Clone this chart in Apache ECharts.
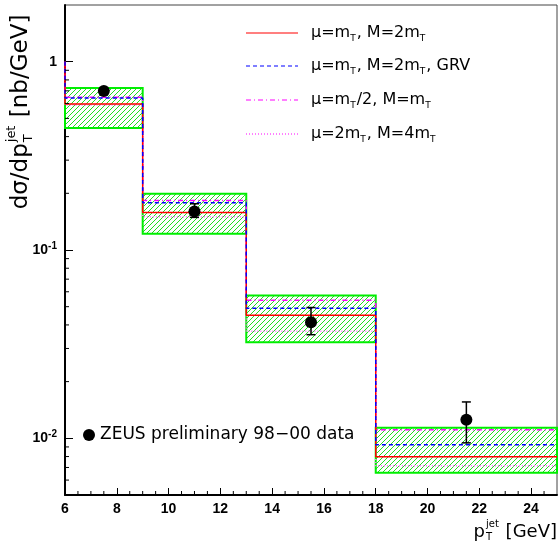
<!DOCTYPE html>
<html>
<head>
<meta charset="utf-8">
<script src="https://cdn.jsdelivr.net/npm/echarts@6/dist/echarts.min.js"></script>
<style>
  html, body { margin: 0; padding: 0; background: #fff; }
  #chart { width: 558px; height: 545px; }
</style>
</head>
<body>
<div id="chart"></div>
<script>
// bin edges in pT jet [GeV]
const binEdges = [6, 9, 13, 18, 25];
// NLO predictions, one value per bin [nb/GeV]
const nloNominal = [0.596, 0.158, 0.0450, 0.00798];   // mu=mT, M=2mT
const nloGrv = [0.641, 0.178, 0.0490, 0.00924];       // mu=mT, M=2mT, GRV
const nloHalf = [0.648, 0.183, 0.0541, 0.01109];      // mu=mT/2, M=mT
const nloDouble = [0.588, 0.150, 0.0370, 0.00715];    // mu=2mT, M=4mT
const entryValue = 1.0; // where the histogram outlines start at pT=6
// hatched uncertainty band
const bandLow = [0.445, 0.122, 0.0324, 0.00657];
const bandHigh = [0.724, 0.199, 0.0574, 0.01137];
// ZEUS data points
const dataX = [7.5, 11, 15.5, 21.5];
const dataY = [0.698, 0.160, 0.0413, 0.01253];
const dataLow = [0.675, 0.149, 0.0355, 0.00946];
const dataHigh = [0.722, 0.176, 0.0495, 0.0156];

const xMin = 6, xMax = 25, yMin = 0.005, yMax = 2;
const FONT = '"DejaVu Sans", sans-serif';
const TICKFONT = '"Liberation Sans", Arial, sans-serif';

function stepLine(vals) {
  const pts = [[binEdges[0], entryValue]];
  vals.forEach((v, i) => {
    pts.push([binEdges[i], v]);
    pts.push([binEdges[i + 1], v]);
  });
  return pts;
}

// minor tick positions
const xMinorTicks = [];
for (let x = xMin + 0.5; x < xMax; x += 0.5) {
  if (x % 2 !== 0) xMinorTicks.push(x);
}
const yMinorTicks = [];
for (let e = -3; e <= 0; e++) {
  for (let m = 2; m <= 9; m++) {
    const v = m * Math.pow(10, e);
    if (v > yMin && v < yMax) yMinorTicks.push(v);
  }
}

// diagonal hatch pattern
const hatch = document.createElement('canvas');
hatch.width = 5; hatch.height = 5;
const hctx = hatch.getContext('2d');
hctx.strokeStyle = '#22dd22';
hctx.lineWidth = 1;
hctx.beginPath();
hctx.moveTo(0, 5); hctx.lineTo(5, 0);
hctx.moveTo(-1, 1); hctx.lineTo(1, -1);
hctx.moveTo(4, 6); hctx.lineTo(6, 4);
hctx.stroke();

// text with a stacked subscript/superscript, laid out left to right
const measureCtx = document.createElement('canvas').getContext('2d');
function textWidth(str, size) {
  measureCtx.font = size + 'px ' + FONT;
  return measureCtx.measureText(str).width;
}
function stackedText(parts, size) {
  const small = Math.round(size * 0.55);
  const children = [];
  let x = 0;
  parts.forEach(p => {
    if (typeof p === 'string') {
      children.push({ type: 'text', x: x, y: 0, style: { text: p, font: size + 'px ' + FONT, fill: '#000', verticalAlign: 'middle' } });
      x += textWidth(p, size);
    } else {
      children.push({ type: 'text', x: x + 1, y: size * 0.32, style: { text: p.sub, font: small + 'px ' + FONT, fill: '#000', verticalAlign: 'middle' } });
      children.push({ type: 'text', x: x + 1, y: -size * 0.42, style: { text: p.sup, font: small + 'px ' + FONT, fill: '#000', verticalAlign: 'middle' } });
      x += Math.max(textWidth(p.sub, small), textWidth(p.sup, small)) + 2;
    }
  });
  return { children, width: x };
}

const subRich = {
  n: { fontSize: 16, fontFamily: FONT, color: '#000', lineHeight: 20 },
  s: { fontSize: 9, fontFamily: FONT, color: '#000', verticalAlign: 'bottom', lineHeight: 10, padding: [0, 1, 0, 0] }
};

const legendRows = [
  { y: 33, color: '#ff0000', dash: null, text: '{n|μ=m}{s|T}{n|, M=2m}{s|T}' },
  { y: 66, color: '#0000ff', dash: [4, 3], text: '{n|μ=m}{s|T}{n|, M=2m}{s|T}{n|, GRV}' },
  { y: 100, color: '#ff00ff', dash: [5, 3, 1, 3], text: '{n|μ=m}{s|T}{n|/2, M=m}{s|T}' },
  { y: 134, color: '#ff00ff', dash: [1, 2], text: '{n|μ=2m}{s|T}{n|, M=4m}{s|T}' }
];

const graphics = [];
legendRows.forEach(r => {
  graphics.push({
    type: 'line',
    shape: { x1: 246, y1: r.y, x2: 298, y2: r.y },
    style: { stroke: r.color, lineWidth: 1.2, lineDash: r.dash || null }
  });
  graphics.push({
    type: 'text', x: 311, y: r.y,
    style: { text: r.text, rich: subRich, verticalAlign: 'middle', align: 'left' }
  });
});
graphics.push({
  type: 'circle', shape: { cx: 89, cy: 435, r: 6 }, style: { fill: '#000' }
});
graphics.push({
  type: 'text', x: 100, y: 435,
  style: { text: 'ZEUS preliminary 98−00 data', font: '17px ' + FONT, fill: '#000', verticalAlign: 'middle' }
});

// axis titles
const yTitle = stackedText(['dσ/dp', { sub: 'T', sup: 'jet' }, ' [nb/GeV]'], 23);
graphics.push({
  type: 'group', x: 21, y: 112 + yTitle.width / 2, rotation: Math.PI / 2,
  children: yTitle.children
});
const xTitle = stackedText(['p', { sub: 'T', sup: 'jet' }, ' [GeV]'], 18);
graphics.push({
  type: 'group', x: 557 - xTitle.width, y: 532,
  children: xTitle.children
});

const chart = echarts.init(document.getElementById('chart'));
chart.setOption({
  animation: false,
  backgroundColor: '#fff',
  grid: { left: 65, right: 1, top: 5, bottom: 50, show: true, borderColor: '#444', borderWidth: 1 },
  xAxis: {
    type: 'value', min: xMin, max: xMax, interval: 2,
    axisLine: { lineStyle: { color: '#000', width: 2 } },
    axisTick: { inside: true, length: 7, lineStyle: { color: '#000' } },
    splitLine: { show: false },
    axisLabel: { color: '#000', fontSize: 14, fontWeight: 'bold', fontFamily: TICKFONT, margin: 7, showMaxLabel: false }
  },
  yAxis: {
    type: 'log', logBase: 10, min: yMin, max: yMax,
    axisLine: { lineStyle: { color: '#000', width: 2 } },
    axisTick: { inside: true, length: 8, lineStyle: { color: '#000' } },
    splitLine: { show: false },
    axisLabel: {
      margin: 8, showMinLabel: false, showMaxLabel: false,
      formatter: v => {
        const e = Math.round(Math.log10(v));
        if (Math.abs(Math.log10(v) - e) > 1e-6) return '';
        return e === 0 ? '{b|1}' : '{b|10}{e|' + e + '}';
      },
      rich: {
        b: { fontSize: 14, fontWeight: 'bold', fontFamily: TICKFONT, color: '#000', lineHeight: 18 },
        e: { fontSize: 10, fontWeight: 'bold', fontFamily: TICKFONT, color: '#000', verticalAlign: 'top', lineHeight: 10 }
      }
    }
  },
  graphic: graphics,
  series: [
    {
      type: 'custom', name: 'band', z: 1,
      data: bandLow.map((lo, i) => [binEdges[i], binEdges[i + 1], lo, bandHigh[i]]),
      encode: { x: [0, 1], y: [2, 3] },
      renderItem: (params, api) => {
        const a = api.coord([api.value(0), api.value(3)]);
        const b = api.coord([api.value(1), api.value(2)]);
        return {
          type: 'rect',
          shape: { x: a[0], y: a[1], width: b[0] - a[0], height: b[1] - a[1] },
          style: { fill: { image: hatch, repeat: 'repeat' }, stroke: '#00ee00', lineWidth: 2 }
        };
      }
    },
    {
      type: 'line', name: 'double', z: 3, showSymbol: false, data: stepLine(nloDouble),
      lineStyle: { color: '#ff66ff', width: 1.5, type: [1, 2] }
    },
    {
      type: 'line', name: 'half', z: 3, showSymbol: false, data: stepLine(nloHalf),
      lineStyle: { color: '#ff00ff', width: 1.5, type: [5, 3, 1, 3] }
    },
    {
      type: 'line', name: 'nominal', z: 4, showSymbol: false, data: stepLine(nloNominal),
      lineStyle: { color: '#ff0000', width: 1.5 }
    },
    {
      type: 'line', name: 'grv', z: 4, showSymbol: false, data: stepLine(nloGrv),
      lineStyle: { color: '#0000ff', width: 1.5, type: [4, 3] }
    },
    {
      type: 'custom', name: 'errors', z: 5,
      data: dataX.map((x, i) => [x, dataLow[i], dataHigh[i]]),
      encode: { x: 0, y: [1, 2] },
      renderItem: (params, api) => {
        const lo = api.coord([api.value(0), api.value(1)]);
        const hi = api.coord([api.value(0), api.value(2)]);
        const st = { stroke: '#000', lineWidth: 1.5 };
        return {
          type: 'group',
          children: [
            { type: 'line', shape: { x1: lo[0], y1: lo[1], x2: hi[0], y2: hi[1] }, style: st },
            { type: 'line', shape: { x1: lo[0] - 4.5, y1: lo[1], x2: lo[0] + 4.5, y2: lo[1] }, style: st },
            { type: 'line', shape: { x1: hi[0] - 4.5, y1: hi[1], x2: hi[0] + 4.5, y2: hi[1] }, style: st }
          ]
        };
      }
    },
    {
      type: 'scatter', name: 'ZEUS', z: 6, symbolSize: 12,
      data: dataX.map((x, i) => [x, dataY[i]]),
      itemStyle: { color: '#000', opacity: 1 }
    },
    {
      type: 'custom', name: 'xminor', z: 7,
      data: xMinorTicks.map(x => [x, yMin]),
      renderItem: (params, api) => {
        const p = api.coord([api.value(0), api.value(1)]);
        return { type: 'line', shape: { x1: p[0], y1: p[1], x2: p[0], y2: p[1] - 4 }, style: { stroke: '#000', lineWidth: 1 } };
      }
    },
    {
      type: 'custom', name: 'yminor', z: 7,
      data: yMinorTicks.map(v => [xMin, v]),
      renderItem: (params, api) => {
        const p = api.coord([api.value(0), api.value(1)]);
        return { type: 'line', shape: { x1: p[0], y1: p[1], x2: p[0] + 4, y2: p[1] }, style: { stroke: '#000', lineWidth: 1 } };
      }
    }
  ]
});
</script>
</body>
</html>
